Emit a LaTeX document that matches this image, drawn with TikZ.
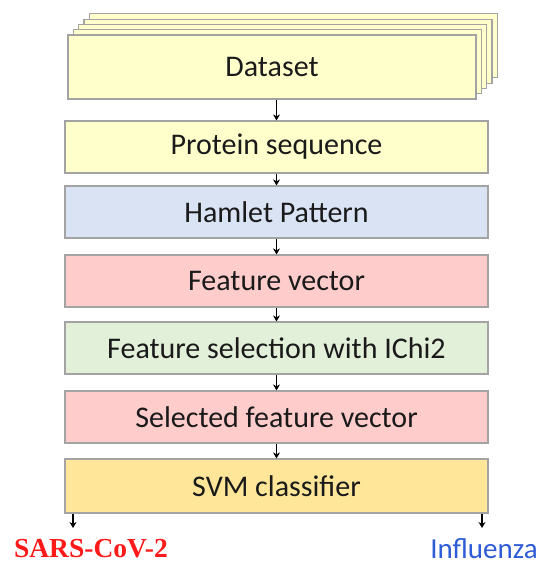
\documentclass[tikz,border=0pt]{standalone}
\usepackage{fontspec}
\setmainfont{Carlito}
\newfontfamily\labelserif{Liberation Serif}
\usepackage{tikz}
\usetikzlibrary{positioning}
\usetikzlibrary{arrows.meta}

\definecolor{boxline}{HTML}{A3A3A3}
\definecolor{dataclr}{HTML}{FFFFCC}
\definecolor{hamletclr}{HTML}{DAE3F3}
\definecolor{featclr}{HTML}{FFCCCC}
\definecolor{selclr}{HTML}{E2F0D9}
\definecolor{svmclr}{HTML}{FFE699}
\definecolor{sarsclr}{HTML}{FF1A1A}
\definecolor{fluclr}{HTML}{2E5CD6}
\definecolor{txtclr}{HTML}{1A1A1A}

\tikzset{
	stepbox/.style={draw=boxline, line width=1.2pt, minimum width=423pt, minimum height=52pt,
		inner sep=0pt, text=txtclr, font=\fontsize{30}{34}\selectfont},
	stackbox/.style={stepbox, fill=dataclr, minimum width=408pt, minimum height=64pt},
	arr/.style={line width=1.4pt, -{Stealth[length=6pt, width=7pt]}}
}

\begin{document}
\begin{tikzpicture}[x=1pt, y=1pt]
				\useasboundingbox (0,0) rectangle (542,-565);
				\foreach \i in {4,3,2,1}
					\node[stackbox] (layer\i) at (272+5.3*\i, -67+5.3*\i) {};
				\node[stackbox] (dataset) at (272,-67) {Dataset};
				\node[stepbox, fill=dataclr] (protein) at (276.5,-147) {Protein sequence};
				\node[stepbox, fill=hamletclr] (hamlet) at (276.5,-212) {Hamlet Pattern};
				\node[stepbox, fill=featclr] (featvec) at (276.5,-281) {Feature vector};
				\node[stepbox, fill=selclr] (featsel) at (276.5,-348) {Feature selection with IChi2};
				\node[stepbox, fill=featclr] (selvec) at (276.5,-417) {Selected feature vector};
				\node[stepbox, fill=svmclr, minimum height=54pt] (svm) at (276.5,-486) {SVM classifier};
				\node[text=sarsclr, inner sep=1pt, font=\labelserif\bfseries\fontsize{27.5}{32}\selectfont] (sars) at (91,-549) {SARS-CoV-2};
				\node[text=fluclr, inner sep=1pt, font=\fontsize{29}{34}\selectfont] (flu) at (484,-549) {Influenza};
				\coordinate (outL) at (73,-528);
				\coordinate (outR) at (482,-528);
				\draw[arr] (protein.north |- dataset.south) -- (protein);
				\draw[arr] (protein) -- (hamlet);
				\draw[arr] (hamlet) -- (featvec);
				\draw[arr] (featvec) -- (featsel);
				\draw[arr] (featsel) -- (selvec);
				\draw[arr] (selvec) -- (svm);
				\draw[arr] (svm.south -| outL) -- (outL);
				\draw[arr] (svm.south -| outR) -- (outR);
			\end{tikzpicture}
\end{document}
